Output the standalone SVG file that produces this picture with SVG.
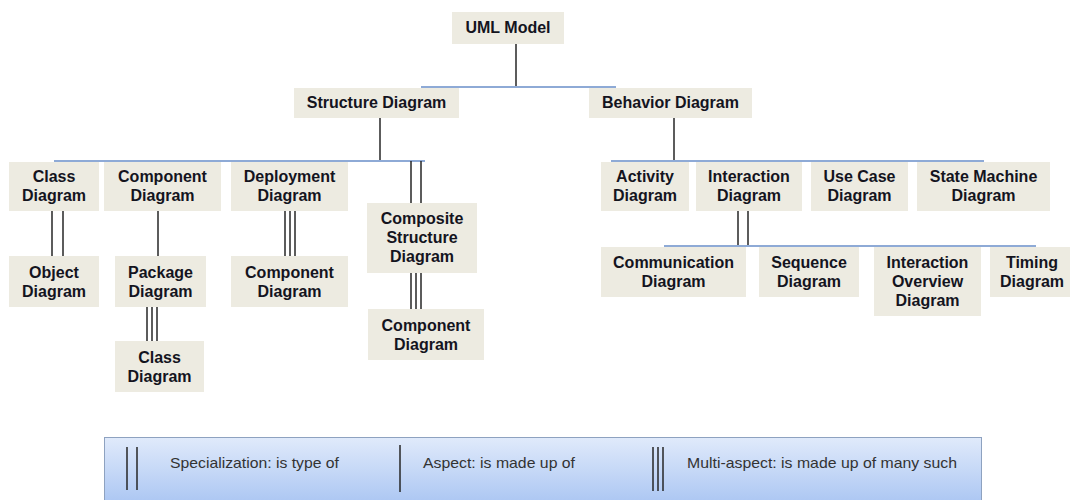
<svg xmlns="http://www.w3.org/2000/svg" width="1070" height="500" viewBox="0 0 1070 500">
<style>
.box{fill:#edebe1}
.t{font-family:"Liberation Sans",Arial,sans-serif;font-weight:bold;font-size:16px;fill:#14141e;text-anchor:middle}
.blue{stroke:#8eaad6;stroke-width:2;fill:none}
.k{stroke:#262626;stroke-width:1.5;fill:none}
.lg{font-family:"Liberation Sans",Arial,sans-serif;font-size:15px;fill:#333}
</style>
<defs>
<linearGradient id="lgGrad" x1="0" y1="0" x2="0" y2="1">
<stop offset="0" stop-color="#e0eafb"/>
<stop offset="1" stop-color="#a8c4f2"/>
</linearGradient>
</defs>
<rect width="1070" height="500" fill="#fff"/>
<g id="connectors">
<line class="k" x1="516" y1="44" x2="516" y2="87"/>
<line class="blue" x1="421" y1="87" x2="616" y2="87"/>
<line class="k" x1="380" y1="118" x2="380" y2="161"/>
<line class="k" x1="674" y1="118" x2="674" y2="161"/>
<line class="blue" x1="54" y1="161" x2="425" y2="161"/>
<line class="blue" x1="611" y1="161" x2="984" y2="161"/>
<line class="k" x1="411" y1="161" x2="411" y2="203"/>
<line class="k" x1="421" y1="161" x2="421" y2="203"/>
<line class="k" x1="52" y1="211" x2="52" y2="256"/>
<line class="k" x1="63" y1="211" x2="63" y2="256"/>
<line class="k" x1="158" y1="211" x2="158" y2="256"/>
<line class="k" x1="285" y1="211" x2="285" y2="256"/>
<line class="k" x1="290" y1="211" x2="290" y2="256"/>
<line class="k" x1="295" y1="211" x2="295" y2="256"/>
<line class="k" x1="147" y1="307" x2="147" y2="341"/>
<line class="k" x1="152" y1="307" x2="152" y2="341"/>
<line class="k" x1="157" y1="307" x2="157" y2="341"/>
<line class="k" x1="411" y1="273" x2="411" y2="309"/>
<line class="k" x1="416" y1="273" x2="416" y2="309"/>
<line class="k" x1="421" y1="273" x2="421" y2="309"/>
<line class="k" x1="738" y1="211" x2="738" y2="246"/>
<line class="k" x1="748" y1="211" x2="748" y2="246"/>
<line class="blue" x1="664" y1="246" x2="1036" y2="246"/>
</g>
<g id="uml-model"><rect class="box" x="452" y="12" width="112" height="32"/><text class="t" x="508" y="33">UML Model</text></g>
<g id="structure-diagram"><rect class="box" x="294" y="88" width="165" height="30"/><text class="t" x="376.5" y="108">Structure Diagram</text></g>
<g id="behavior-diagram"><rect class="box" x="589" y="88" width="163" height="30"/><text class="t" x="670.5" y="108">Behavior Diagram</text></g>
<g id="class-diagram"><rect class="box" x="9" y="162" width="90" height="49"/><text class="t" x="54" y="182">Class<tspan x="54" y="201">Diagram</tspan></text></g>
<g id="component-diagram"><rect class="box" x="104" y="162" width="117" height="49"/><text class="t" x="162.5" y="182">Component<tspan x="162.5" y="201">Diagram</tspan></text></g>
<g id="deployment-diagram"><rect class="box" x="231" y="162" width="117" height="49"/><text class="t" x="289.5" y="182">Deployment<tspan x="289.5" y="201">Diagram</tspan></text></g>
<g id="composite-structure-diagram"><rect class="box" x="367" y="203" width="110" height="70"/><text class="t" x="422" y="224">Composite<tspan x="422" y="243">Structure</tspan><tspan x="422" y="262">Diagram</tspan></text></g>
<g id="object-diagram"><rect class="box" x="9" y="256" width="90" height="51"/><text class="t" x="54" y="277.5">Object<tspan x="54" y="296.5">Diagram</tspan></text></g>
<g id="package-diagram"><rect class="box" x="115" y="256" width="91" height="51"/><text class="t" x="160.5" y="277.5">Package<tspan x="160.5" y="296.5">Diagram</tspan></text></g>
<g id="deployment-component-diagram"><rect class="box" x="231" y="256" width="117" height="51"/><text class="t" x="289.5" y="277.5">Component<tspan x="289.5" y="296.5">Diagram</tspan></text></g>
<g id="package-class-diagram"><rect class="box" x="115" y="341" width="89" height="51"/><text class="t" x="159.5" y="362.5">Class<tspan x="159.5" y="381.5">Diagram</tspan></text></g>
<g id="composite-component-diagram"><rect class="box" x="368" y="309" width="116" height="51"/><text class="t" x="426" y="330.5">Component<tspan x="426" y="349.5">Diagram</tspan></text></g>
<g id="activity-diagram"><rect class="box" x="601" y="162" width="88" height="49"/><text class="t" x="645" y="182">Activity<tspan x="645" y="201">Diagram</tspan></text></g>
<g id="interaction-diagram"><rect class="box" x="696" y="162" width="106" height="49"/><text class="t" x="749" y="182">Interaction<tspan x="749" y="201">Diagram</tspan></text></g>
<g id="use-case-diagram"><rect class="box" x="811" y="162" width="97" height="49"/><text class="t" x="859.5" y="182">Use Case<tspan x="859.5" y="201">Diagram</tspan></text></g>
<g id="state-machine-diagram"><rect class="box" x="917" y="162" width="133" height="49"/><text class="t" x="983.5" y="182">State Machine<tspan x="983.5" y="201">Diagram</tspan></text></g>
<g id="communication-diagram"><rect class="box" x="601" y="247" width="145" height="50"/><text class="t" x="673.5" y="267.5">Communication<tspan x="673.5" y="286.5">Diagram</tspan></text></g>
<g id="sequence-diagram"><rect class="box" x="759" y="247" width="100" height="50"/><text class="t" x="809" y="267.5">Sequence<tspan x="809" y="286.5">Diagram</tspan></text></g>
<g id="interaction-overview-diagram"><rect class="box" x="874" y="247" width="107" height="69"/><text class="t" x="927.5" y="267.5">Interaction<tspan x="927.5" y="286.5">Overview</tspan><tspan x="927.5" y="305.5">Diagram</tspan></text></g>
<g id="timing-diagram"><rect class="box" x="990" y="247" width="82" height="50"/><text class="t" x="1032" y="267.5">Timing<tspan x="1032" y="286.5">Diagram</tspan></text></g>
<g id="legend">
<rect x="104.5" y="437.5" width="877" height="70" fill="url(#lgGrad)" stroke="#8ea2c0" stroke-width="1"/>
<line class="k" x1="127" y1="447" x2="127" y2="490"/>
<line class="k" x1="137" y1="447" x2="137" y2="490"/>
<text class="lg" x="170" y="468" textLength="169" lengthAdjust="spacingAndGlyphs">Specialization: is type of</text>
<line class="k" x1="400" y1="445" x2="400" y2="492"/>
<text class="lg" x="423" y="468" textLength="152" lengthAdjust="spacingAndGlyphs">Aspect: is made up of</text>
<line class="k" x1="653" y1="447" x2="653" y2="491"/>
<line class="k" x1="658" y1="447" x2="658" y2="491"/>
<line class="k" x1="663" y1="447" x2="663" y2="491"/>
<text class="lg" x="687" y="468" textLength="270" lengthAdjust="spacingAndGlyphs">Multi-aspect: is made up of many such</text>
</g>
</svg>
